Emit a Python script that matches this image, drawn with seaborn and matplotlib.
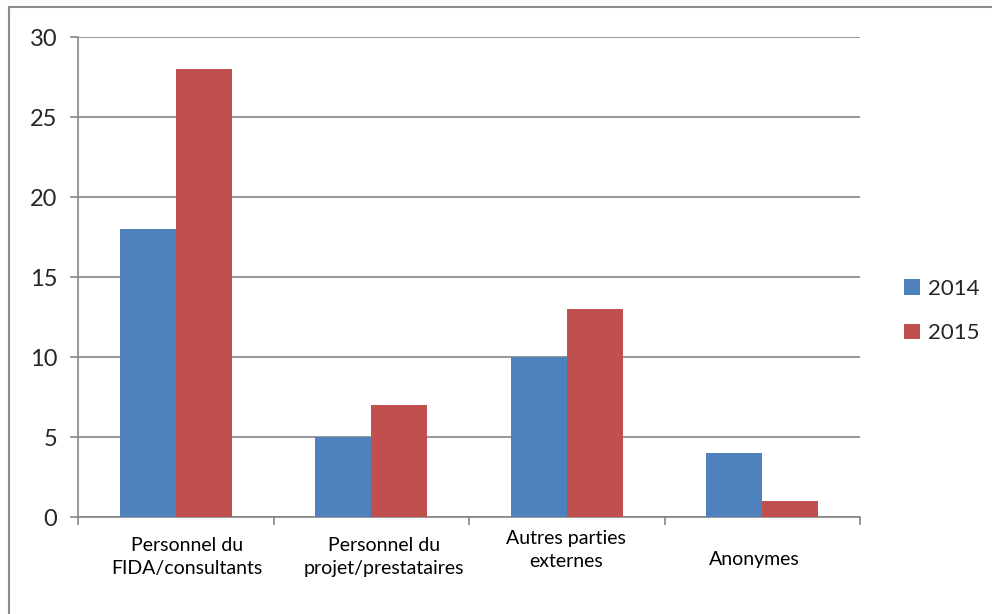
import matplotlib
matplotlib.use("Agg")
import matplotlib.pyplot as plt
import matplotlib.transforms as mtransforms
import pandas as pd
import seaborn as sns

# Données
categories = ["Personnel du\nFIDA/consultants", "Personnel du\nprojet/prestataires",
              "Autres parties\nexternes", "Anonymes"]
years = ["2014", "2015"]
values_2014 = [18, 5, 10, 4]
values_2015 = [28, 7, 13, 1]
y_ticks = [0, 5, 10, 15, 20, 25, 30]

df = pd.DataFrame({
    "categorie": categories * 2,
    "annee": [years[0]] * 4 + [years[1]] * 4,
    "valeur": values_2014 + values_2015,
})

sns.set_theme(style="white")
plt.rcParams['font.family'] = ['Lato', 'DejaVu Sans']

grey = '#868686'
palette = {"2014": '#4F81BD', "2015": '#C0504D'}

fig = plt.figure(figsize=(9.92, 6.14), dpi=100, facecolor='white')
ax = fig.add_axes([78 / 992, 1 - 517 / 614, (860 - 78) / 992, (517 - 37) / 614])

sns.barplot(data=df, x="categorie", y="valeur", hue="annee", palette=palette,
            width=0.573, gap=0, saturation=1, edgecolor='none', ax=ax, zorder=3)

ax.set_xlim(-0.5, 3.5)
ax.set_ylim(0, 30)
ax.set_yticks(y_ticks)
ax.set_yticklabels([str(v) for v in y_ticks], fontsize=17)
ax.set_xlabel('')
ax.set_ylabel('')

# Grille horizontale
ax.grid(axis='y', color=grey, linewidth=1.2, zorder=0)
ax.grid(axis='x', visible=False)

# Axes
for side in ['top', 'right']:
    ax.spines[side].set_visible(False)
for side in ['left', 'bottom']:
    ax.spines[side].set_color(grey)
    ax.spines[side].set_linewidth(1.2)

ax.tick_params(axis='y', direction='out', length=6, width=1.2, color=grey, left=True, pad=9)
ax.set_xticks([-0.5, 0.5, 1.5, 2.5, 3.5], minor=True)
ax.tick_params(axis='x', which='minor', direction='out', length=6, width=1.2, color=grey, bottom=True)
ax.tick_params(axis='x', which='major', length=0, labelbottom=False)

# Étiquettes des catégories (position décalée comme dans l'original)
offsets = [(11, -40), (13, -40), (-1, -33), (-8, -43)]
for i, (label, (dx, dy)) in enumerate(zip(categories, offsets)):
    tr = ax.get_xaxis_transform() + mtransforms.ScaledTranslation(dx / 100, dy / 100, fig.dpi_scale_trans)
    ax.text(i, 0, label, transform=tr, ha='center', va='center', fontsize=14,
            linespacing=1.45, color='black')

# Légende
leg = ax.legend(loc='center left', bbox_to_anchor=(884 / 992, 1 - 311 / 614),
                bbox_transform=fig.transFigure, frameon=False, fontsize=16,
                handlelength=0.7, handleheight=0.7, handletextpad=0.4, labelspacing=1.1)

# Cadre du graphique
frame = plt.Rectangle((9 / 992, -0.05), 1.2, 1 - 7 / 614 + 0.05, transform=fig.transFigure,
                      fill=False, edgecolor='#8c8c8c', linewidth=1.5)
fig.patches.append(frame)

fig.savefig("out.png", dpi=100, facecolor='white')
